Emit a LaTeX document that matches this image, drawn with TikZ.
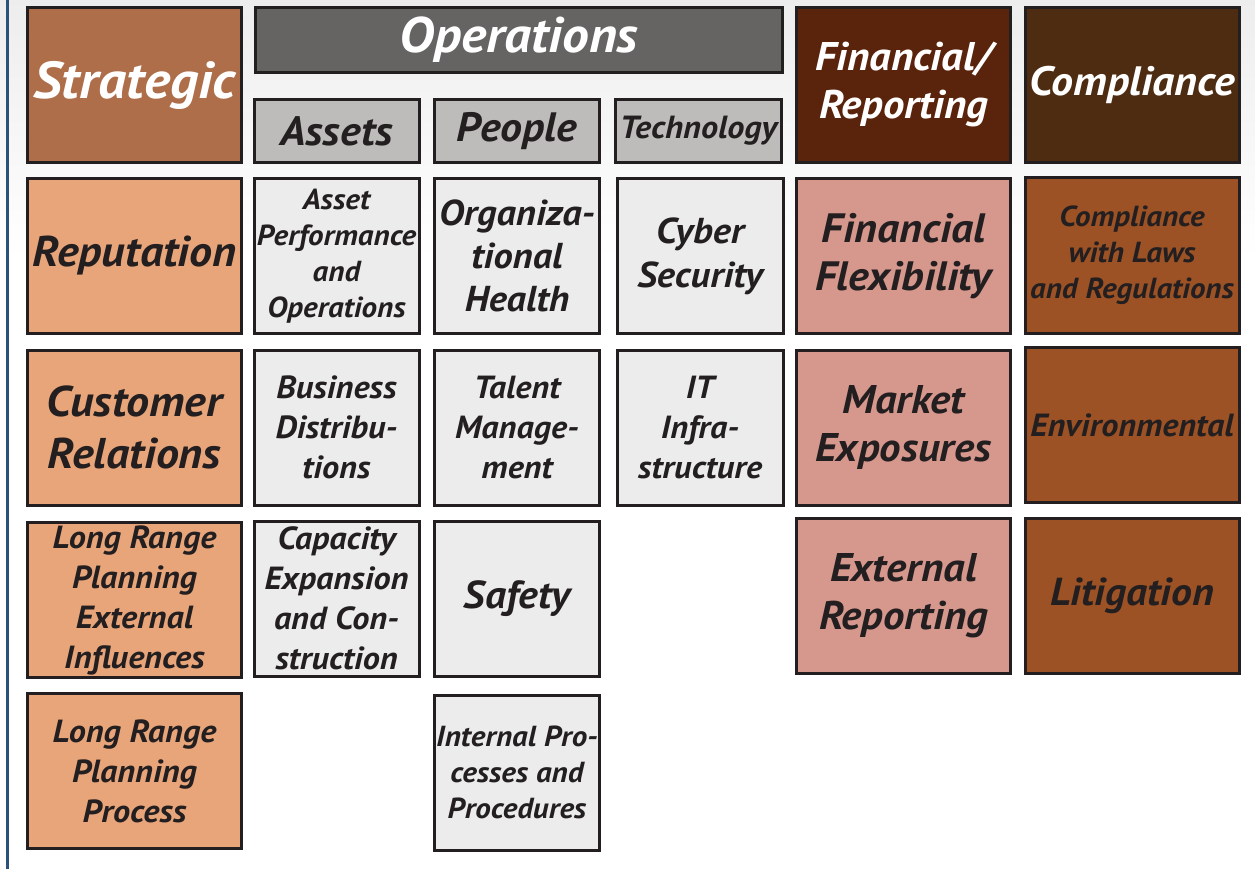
\documentclass[tikz,border=0pt]{standalone}
\usepackage{fontspec}
\setmainfont{PT Sans}[FakeStretch=1.07]
\newcommand{\fsz}[2]{\fontsize{#1}{#2}\bfseries\itshape\selectfont}
\definecolor{inkdark}{HTML}{231F20}
\definecolor{stratHead}{HTML}{AD6E49}
\definecolor{stratCell}{HTML}{E9A57A}
\definecolor{opsHead}{HTML}{666462}
\definecolor{opsSub}{HTML}{BDBCBA}
\definecolor{opsCell}{HTML}{ECECEC}
\definecolor{finHead}{HTML}{5A230B}
\definecolor{finCell}{HTML}{D6978D}
\definecolor{compHead}{HTML}{4E2C12}
\definecolor{compCell}{HTML}{9C5225}
\definecolor{edgeBlue}{HTML}{2D5279}
\tikzset{
  box/.style={draw=inkdark, line width=3pt, inner sep=0pt, align=center, text=inkdark},
  widecell/.style={box, minimum width=214pt, minimum height=155pt},
  narrowcell/.style={box, minimum width=165pt, minimum height=155pt},
  subhead/.style={box, fill=opsSub, minimum width=165pt, minimum height=63pt}
}
\begin{document}
\begin{tikzpicture}[x=1pt,y=-1pt]
\useasboundingbox (0,0) rectangle (1255,869);
\shade[top color=black!7, bottom color=white] (0,0) rectangle (1255,260);
\draw[edgeBlue, line width=3pt] (7.5,0) -- (7.5,869);

% headers
\node[widecell, fill=stratHead, text=white, font=\fsz{52}{56}] (strat) at (134.5,85) {Strategic};
\node[box, fill=opsHead, text=white, minimum width=527pt, minimum height=65pt, font=\fsz{50}{54}] (ops) at (519,40) {Operations};
\node[widecell, fill=finHead, text=white, font=\fsz{40}{48}] (fin) at (903.5,85) {Financial/\\Reporting};
\node[widecell, fill=compHead, text=white, font=\fsz{41}{48}] (comp) at (1132,85) {Compliance};

\begin{scope}[every node/.style={subhead}]
\node[font=\fsz{41}{44}] (assets) at (336.5,131) {Assets};
\node[font=\fsz{41}{44}] (people) at (517,131) {People};
\node[font=\fsz{32}{34}, minimum width=166pt] (tech) at (698.5,131) {Technology};
\end{scope}

% strategic column
\begin{scope}[every node/.style={widecell, fill=stratCell}]
\node[font=\fsz{43}{48}] (reput) at (134.5,256) {Reputation};
\node[font=\fsz{43}{52}] (custrel) at (134.5,427.5) {Customer\\Relations};
\node[font=\fsz{32}{40}] (lrpext) at (134.5,600) {Long Range\\Planning\\External\\Influences};
\node[font=\fsz{32}{40}] (lrpproc) at (134.5,771) {Long Range\\Planning\\Process};
\end{scope}

% operations columns
\begin{scope}[every node/.style={narrowcell, fill=opsCell}]
\node[font=\fsz{29}{36}] (assetperf) at (336.5,256) {Asset\\Performance\\and\\Operations};
\node[font=\fsz{32}{40}] (busdist) at (336.5,427.5) {Business\\Distribu-\\tions};
\node[font=\fsz{32}{40}] (capexp) at (336.5,598.5) {Capacity\\Expansion\\and Con-\\struction};
\node[font=\fsz{36}{43}] (orghealth) at (517,256) {Organiza-\\tional\\Health};
\node[font=\fsz{32}{40}] (talent) at (517,427.5) {Talent\\Manage-\\ment};
\node[font=\fsz{39}{44}] (safety) at (517,599) {Safety};
\node[font=\fsz{29}{36}] (intproc) at (517,772.5) {Internal Pro-\\cesses and\\Procedures};
\node[font=\fsz{36}{44}, minimum width=166pt] (cyber) at (700,256) {Cyber\\Security};
\node[font=\fsz{32}{40}, minimum width=166pt] (itinfra) at (700,427.5) {IT\\Infra-\\structure};
\end{scope}

% financial column
\begin{scope}[every node/.style={widecell, fill=finCell}]
\node[font=\fsz{41}{48}] (finflex) at (903.5,256) {Financial\\Flexibility};
\node[font=\fsz{40}{48}] (market) at (903.5,427.5) {Market\\Exposures};
\node[font=\fsz{40}{48}] (extrep) at (903.5,596) {External\\Reporting};
\end{scope}

% compliance column
\begin{scope}[every node/.style={widecell, fill=compCell}]
\node[font=\fsz{29}{36}] (laws) at (1132,255.5) {Compliance\\with Laws\\and Regulations};
\node[font=\fsz{32}{40}] (environ) at (1132,425) {Environmental};
\node[font=\fsz{39}{46}] (litig) at (1132,596) {Litigation};
\end{scope}
\end{tikzpicture}
\end{document}
